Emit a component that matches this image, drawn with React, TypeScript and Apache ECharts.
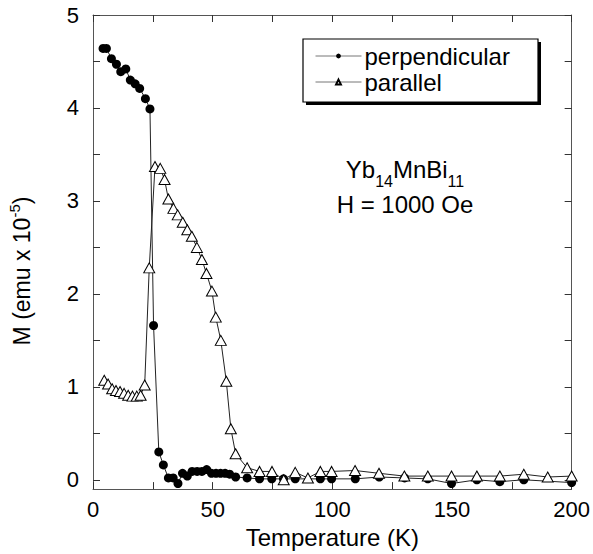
import React, { useEffect, useRef } from 'react';
import * as echarts from 'echarts';

// Temperature (K) and magnetisation M (emu x 10^-5)
const PERP_T = [4.2, 5.6, 7.7, 9.8, 11.6, 13.7, 15.6, 17.6, 19.5, 21.9, 23.8, 25.3, 27.5, 29.4, 31.5, 33.5, 35.5, 37.4, 39.4, 41.4, 43.5, 45.5, 47.5, 49.5, 51.4, 53.3, 55.2, 57.1, 59.6, 64.4, 69.6, 74.7, 79.6, 84.5, 95, 99.7, 109.6, 119.6, 130.2, 139.9, 149.8, 160.4, 170, 180, 200];
const PERP_M = [4.64, 4.64, 4.53, 4.47, 4.39, 4.42, 4.30, 4.26, 4.21, 4.10, 3.99, 1.66, 0.30, 0.16, 0.02, 0.02, -0.04, 0.07, 0.04, 0.09, 0.09, 0.09, 0.11, 0.07, 0.07, 0.07, 0.07, 0.06, 0.03, 0.02, 0.01, 0.01, 0.01, 0.01, 0.01, 0.01, 0.01, 0.03, 0.02, 0.01, -0.04, 0.0, -0.02, 0.0, -0.03];

const PARA_T = [4.7, 6.3, 8.0, 9.6, 11.3, 13.0, 14.7, 16.5, 18.3, 19.9, 21.6, 23.5, 25.9, 28.1, 29.9, 31.5, 33.6, 35.4, 37.5, 39.4, 41.3, 43.4, 45.5, 47.4, 49.7, 51.3, 53.4, 55.7, 57.6, 59.6, 64.4, 69.6, 74.8, 79.7, 84.5, 89.8, 95, 99.7, 109.5, 119.5, 130.1, 139.9, 149.8, 160.4, 170, 180, 190, 200];
const PARA_M = [1.07, 1.03, 0.98, 0.96, 0.95, 0.93, 0.91, 0.90, 0.90, 0.91, 1.02, 2.28, 3.37, 3.35, 3.23, 3.02, 2.92, 2.85, 2.77, 2.69, 2.62, 2.50, 2.37, 2.22, 2.03, 1.75, 1.50, 1.06, 0.55, 0.28, 0.13, 0.09, 0.09, 0.0, 0.08, 0.02, 0.09, 0.09, 0.10, 0.07, 0.04, 0.04, 0.04, 0.04, 0.04, 0.06, 0.03, 0.04];

const X_LABELS = [0, 50, 100, 150, 200];
const Y_LABELS = [0, 1, 2, 3, 4, 5];
const Y_TICKS = [0, 0.5, 1, 1.5, 2, 2.5, 3, 3.5, 4, 4.5, 5];

const SERIES_NAMES = ['perpendicular', 'parallel'];
const X_TITLE = 'Temperature (K)';
const COMPOUND = ['Yb', '14', 'MnBi', '11'];
const FIELD = 'H = 1000 Oe';

const FONT = '"Liberation Sans", Arial, Helvetica, sans-serif';

export default function App() {
  const ref = useRef<HTMLDivElement>(null);
  useEffect(() => {
    const chart = echarts.init(ref.current!, null, { renderer: 'svg' });
    const axisLine = { show: true, onZero: false, lineStyle: { color: '#555', width: 1 } };
    const tick = { show: true, inside: true, length: 7, lineStyle: { color: '#333', width: 1 } };
    const zip = (t: number[], m: number[]) => t.map((x, i) => [x, m[i]]);
    chart.setOption({
      animation: false,
      backgroundColor: '#ffffff',
      grid: { left: 93, right: 18, top: 15, bottom: 57 },
      xAxis: [
        {
          type: 'value', min: 0, max: 200, interval: 25, position: 'bottom',
          axisLine, axisTick: tick, splitLine: { show: false },
          axisLabel: {
            formatter: (v: number) => (X_LABELS.indexOf(v) >= 0 ? String(v) : ''),
            fontSize: 22, color: '#000', fontFamily: FONT, margin: 9,
          },
          name: X_TITLE, nameLocation: 'middle', nameGap: 32,
          nameTextStyle: { fontSize: 24, color: '#000', fontFamily: FONT },
        },
        {
          type: 'value', min: 0, max: 200, interval: 25, position: 'top',
          axisLine, axisTick: tick, splitLine: { show: false }, axisLabel: { show: false },
        },
      ],
      yAxis: [
        {
          type: 'value', min: -0.1, max: 5, position: 'left',
          axisLine, axisTick: { ...tick, customValues: Y_TICKS }, splitLine: { show: false },
          axisLabel: { customValues: Y_LABELS, fontSize: 22, color: '#000', fontFamily: FONT, margin: 14 },
        },
        {
          type: 'value', min: -0.1, max: 5, position: 'right',
          axisLine, axisTick: { ...tick, customValues: Y_TICKS }, splitLine: { show: false },
          axisLabel: { show: false },
        },
      ],
      legend: {
        data: SERIES_NAMES,
        orient: 'vertical',
        left: 310, top: 39,
        itemWidth: 46, itemHeight: 6, itemGap: 2,
        lineStyle: { color: '#777', width: 1 },
        textStyle: { fontSize: 24, color: '#000', fontFamily: FONT, padding: [0, 0, 0, -2] },
        z: 10,
      },
      graphic: [
        { type: 'rect', z: 5, shape: { x: 306, y: 42, width: 235, height: 63 }, style: { fill: '#000' } },
        { type: 'rect', z: 6, shape: { x: 303, y: 39, width: 235, height: 63 }, style: { fill: '#fff', stroke: '#000', lineWidth: 1.2 } },
        {
          type: 'text', z: 10, x: 405, y: 169,
          style: {
            text: `{a|${COMPOUND[0]}}{s|${COMPOUND[1]}}{a|${COMPOUND[2]}}{s|${COMPOUND[3]}}`,
            align: 'center', verticalAlign: 'middle',
            rich: {
              a: { fontSize: 24, lineHeight: 40, verticalAlign: 'middle', fontFamily: FONT, fill: '#000' },
              s: { fontSize: 16, lineHeight: 15, verticalAlign: 'bottom', fontFamily: FONT, fill: '#000' },
            },
          },
        },
        {
          type: 'text', z: 10, x: 405, y: 204,
          style: { text: FIELD, align: 'center', verticalAlign: 'middle', fontSize: 24, fontFamily: FONT, fill: '#000' },
        },
        {
          type: 'text', z: 10, x: 22, y: 271, rotation: Math.PI / 2,
          style: {
            text: '{a|M (emu x 10}{s|-5}{a|)}',
            align: 'center', verticalAlign: 'middle',
            rich: {
              a: { fontSize: 23, lineHeight: 30, verticalAlign: 'middle', fontFamily: FONT, fill: '#000' },
              s: { fontSize: 15, lineHeight: 15, verticalAlign: 'top', fontFamily: FONT, fill: '#000' },
            },
          },
        },
      ],
      series: [
        {
          name: SERIES_NAMES[0], type: 'line', data: zip(PERP_T, PERP_M),
          symbol: 'circle', symbolSize: 9, showAllSymbol: true,
          lineStyle: { color: '#222', width: 1 },
          itemStyle: { color: '#000', borderColor: '#000', borderWidth: 0 },
          z: 3,
        },
        {
          name: SERIES_NAMES[1], type: 'line', data: zip(PARA_T, PARA_M),
          symbol: 'triangle', symbolSize: [11, 10], showAllSymbol: true,
          lineStyle: { color: '#222', width: 1 },
          itemStyle: { color: '#fff', borderColor: '#000', borderWidth: 1 },
          z: 4,
        },
      ],
    });
    return () => chart.dispose();
  }, []);
  return <div ref={ref} style={{ position: 'absolute', left: 0, top: 0, width: 593, height: 554 }} />;
}
